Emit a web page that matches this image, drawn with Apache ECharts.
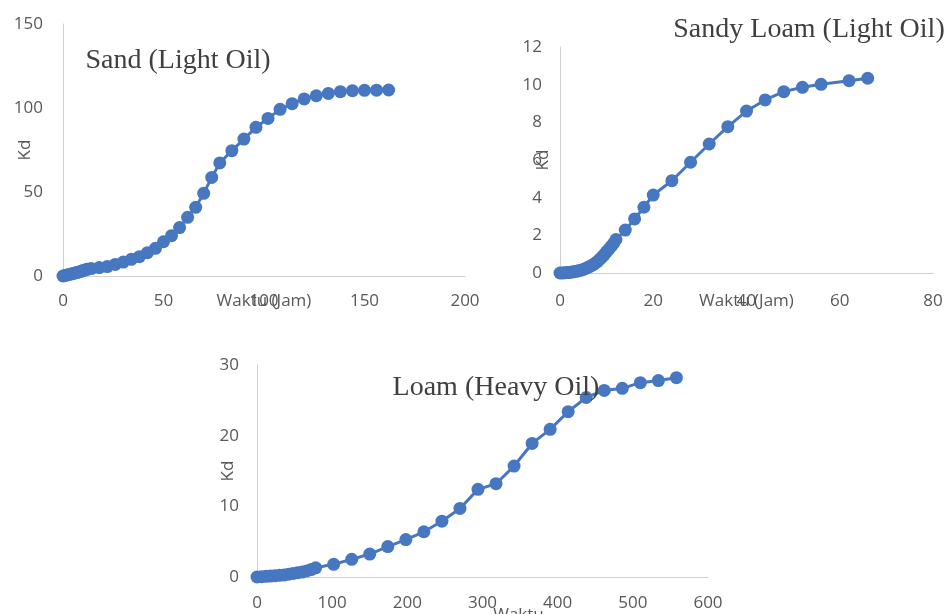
<!DOCTYPE html>
<html>
<head>
<meta charset="utf-8">
<script src="https://cdn.jsdelivr.net/npm/echarts@6/dist/echarts.min.js"></script>
<style>html,body{margin:0;padding:0;background:#fff}#c{width:948px;height:614px}</style>
</head>
<body>
<div id="c"></div>
<script>
// Sand (Light Oil)
const sandTime = [0,1,2,3,4,5,6,7,8,9,10,11,12,14,18,22,26,30,34,38,42,46,50,54,58,62,66,70,74,78,84,90,96,102,108,114,120,126,132,138,144,150,156,162];
const sandKd   = [0,0.3,0.6,0.9,1.2,1.5,1.8,2.1,2.4,2.8,3.2,3.6,4.0,4.4,5.0,5.6,6.9,8.3,9.9,11.5,13.9,16.5,20.4,24,28.8,34.9,40.9,49.2,58.7,67.3,74.6,81.5,88.5,93.8,99.2,102.6,105.4,107.3,108.7,109.7,110.3,110.5,110.6,110.7];
// Sandy Loam (Light Oil)
const sandyTime = [0,0.5,1,1.5,2,2.5,3,3.5,4,4.5,5,5.5,6,6.5,7,7.5,8,8.5,9,9.5,10,10.5,11,11.5,12,14,16,18,20,24,28,32,36,40,44,48,52,56,62,66];
const sandyKd   = [0,0,0.01,0.02,0.03,0.05,0.07,0.09,0.12,0.15,0.19,0.24,0.3,0.36,0.43,0.51,0.6,0.72,0.84,0.98,1.13,1.27,1.42,1.58,1.78,2.28,2.87,3.49,4.14,4.9,5.88,6.85,7.77,8.6,9.19,9.63,9.86,10.02,10.21,10.34];
// Loam (Heavy Oil)
const loamTime = [0,6,12,18,24,30,36,42,48,54,60,66,72,78,102,126,150,174,198,222,246,270,294,318,342,366,390,414,438,462,486,510,534,558];
const loamKd   = [0,0.05,0.1,0.13,0.18,0.24,0.3,0.4,0.5,0.6,0.7,0.85,1.05,1.3,1.8,2.5,3.25,4.3,5.3,6.4,7.9,9.7,12.4,13.2,15.7,18.9,20.9,23.4,25.4,26.4,26.7,27.5,27.8,28.2];

const titles = ['Sand (Light Oil)', 'Sandy Loam (Light Oil)', 'Loam (Heavy Oil)'];
const yName = 'Kd';
const xNames = ['Waktu (Jam)', 'Waktu (Jam)', 'Waktu'];

const blue = '#4677C0';
const labelColor = '#595959';
const axisColor = '#d0d0d0';
const sansFont = '"Open Sans", "Noto Sans", sans-serif';

function zip(a, b) { return a.map((v, i) => [v, b[i]]); }

function xAx(idx, max, interval, margin, gap, pad) {
  return {
    type: 'value', gridIndex: idx, min: 0, max: max, interval: interval,
    axisLine: { show: true, lineStyle: { color: axisColor, width: 1 } },
    axisTick: { show: false }, splitLine: { show: false },
    axisLabel: { color: labelColor, fontSize: 17, fontFamily: sansFont, margin: margin, showMaxLabel: true, showMinLabel: true },
    name: xNames[idx], nameLocation: 'middle', nameGap: gap, nameMoveOverlap: false,
    nameTextStyle: { color: labelColor, fontSize: 17, fontFamily: sansFont, padding: pad || 0 }
  };
}
function yAx(idx, max, interval, margin, gap) {
  return {
    type: 'value', gridIndex: idx, min: 0, max: max, interval: interval,
    axisLine: { show: true, lineStyle: { color: axisColor, width: 1 } },
    axisTick: { show: false }, splitLine: { show: false },
    axisLabel: { color: labelColor, fontSize: 17, fontFamily: sansFont, margin: margin },
    name: yName, nameLocation: 'middle', nameGap: gap, nameRotate: 90, nameMoveOverlap: false,
    nameTextStyle: { color: labelColor, fontSize: 17, fontFamily: sansFont }
  };
}
function ser(idx, data) {
  return {
    type: 'line', xAxisIndex: idx, yAxisIndex: idx, data: data,
    symbol: 'circle', symbolSize: 13, showAllSymbol: true,
    lineStyle: { color: blue, width: 3 }, itemStyle: { color: blue },
    z: 3
  };
}

const chart = echarts.init(document.getElementById('c'), null, { renderer: 'canvas' });
chart.setOption({
  animation: false,
  backgroundColor: '#ffffff',
  grid: [
    { left: 63, top: 24, width: 402, height: 252, outerBoundsMode: 'none', containLabel: false },
    { left: 560, top: 47, width: 373, height: 226, outerBoundsMode: 'none', containLabel: false },
    { left: 257, top: 365, width: 451, height: 212, outerBoundsMode: 'none', containLabel: false }
  ],
  xAxis: [
    xAx(0, 200, 50, 17, 17),
    xAx(1, 80, 20, 20, 20),
    xAx(2, 600, 100, 18, 30, [0, 0, 0, 72])
  ],
  yAxis: [
    yAx(0, 150, 50, 20, 29),
    yAx(1, 12, 2, 18, 8),
    yAx(2, 30, 10, 18, 20)
  ],
  series: [
    ser(0, zip(sandTime, sandKd)),
    ser(1, zip(sandyTime, sandyKd)),
    ser(2, zip(loamTime, loamKd))
  ],
  graphic: [
    { type: 'text', x: 178, y: 61, z: 10, style: { text: titles[0], font: '28px "Liberation Serif", serif', fill: '#404040', textAlign: 'center', textVerticalAlign: 'middle' } },
    { type: 'text', x: 809, y: 30, z: 10, style: { text: titles[1], font: '28px "Liberation Serif", serif', fill: '#404040', textAlign: 'center', textVerticalAlign: 'middle' } },
    { type: 'text', x: 496, y: 388, z: 10, style: { text: titles[2], font: '28px "Liberation Serif", serif', fill: '#404040', textAlign: 'center', textVerticalAlign: 'middle' } }
  ]
});
</script>
</body>
</html>
